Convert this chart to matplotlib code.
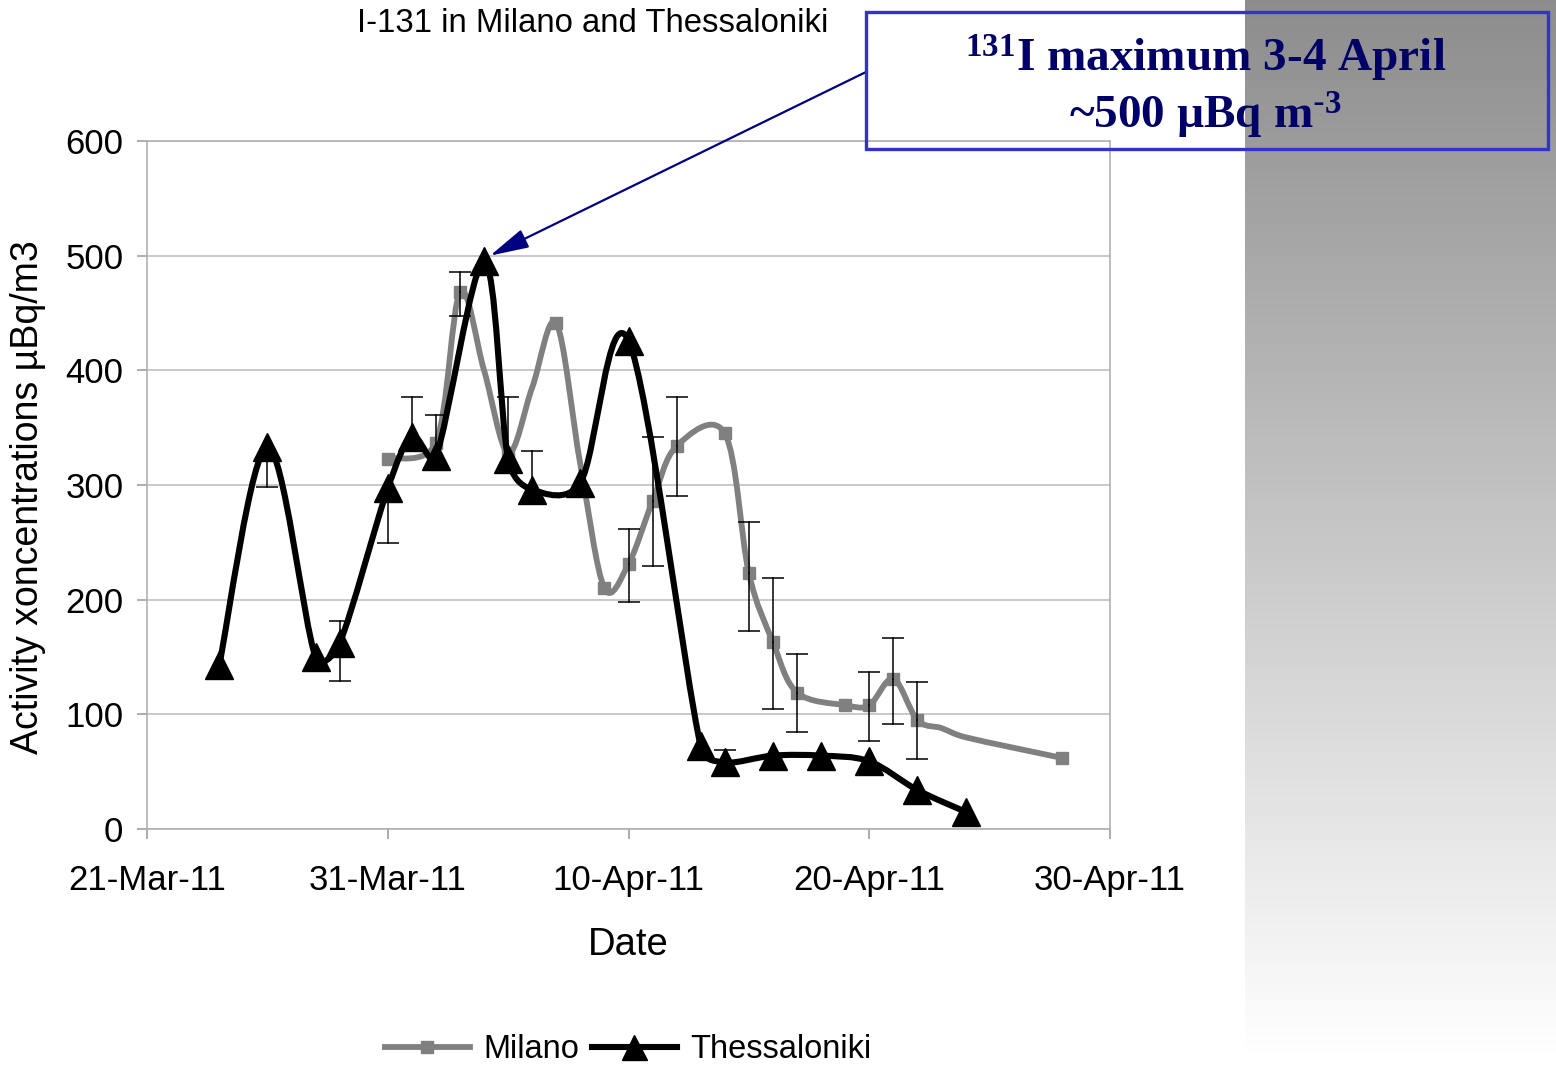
import numpy as np
import matplotlib
matplotlib.use("Agg")
import matplotlib.pyplot as plt
import matplotlib.dates as mdates
from matplotlib.path import Path
from matplotlib.patches import PathPatch, Rectangle
from matplotlib.lines import Line2D
from datetime import datetime

plt.rcParams['font.family'] = ['Liberation Sans', 'DejaVu Sans']
plt.rcParams['mathtext.default'] = 'regular'

# ---- data ----
thess_dates = ['2011-03-24', '2011-03-26', '2011-03-28', '2011-03-29', '2011-03-31',
               '2011-04-01', '2011-04-02', '2011-04-04', '2011-04-05', '2011-04-06',
               '2011-04-08', '2011-04-10', '2011-04-13', '2011-04-14', '2011-04-16',
               '2011-04-18', '2011-04-20', '2011-04-22', '2011-04-24']
thess_vals = [143, 333, 150, 162, 297, 342, 325, 495, 323, 296,
              302, 426, 72, 58, 64, 64, 59, 34, 15]
thess_err_lo = [0, 35, 0, 33, 48, 0, 0, 0, 0, 0, 0, 0, 0, 0, 0, 0, 0, 0, 0]
thess_err_hi = [0, 0, 0, 19, 0, 35, 36, 0, 54, 34, 0, 0, 0, 11, 0, 0, 0, 0, 0]

milano_dates = ['2011-03-31', '2011-04-02', '2011-04-03', '2011-04-04', '2011-04-05',
                '2011-04-06', '2011-04-07', '2011-04-08', '2011-04-09', '2011-04-10',
                '2011-04-11', '2011-04-12', '2011-04-14', '2011-04-15', '2011-04-16',
                '2011-04-17', '2011-04-19', '2011-04-20', '2011-04-21', '2011-04-22',
                '2011-04-23', '2011-04-24', '2011-04-28']
milano_vals = [323, 337, 468, 400, 328, 385, 441, 318, 210, 231,
               286, 334, 345, 223, 163, 119, 108, 108, 131, 95,
               88, 80, 62]
milano_err_lo = [0, 0, 21, 0, 0, 0, 0, 0, 0, 33, 57, 44, 0, 50, 58, 34, 0, 31, 39, 34, 0, 0, 0]
milano_err_hi = [0, 0, 18, 0, 0, 0, 0, 0, 0, 31, 56, 43, 0, 45, 56, 34, 0, 29, 36, 33, 0, 0, 0]
milano_marked = [0, 1, 2, 4, 6, 8, 9, 10, 11, 12, 13, 14, 15, 16, 17, 18, 19, 22]

tick_dates = ['2011-03-21', '2011-03-31', '2011-04-10', '2011-04-20', '2011-04-30']
tick_labels = ['21-Mar-11', '31-Mar-11', '10-Apr-11', '20-Apr-11', '30-Apr-11']
y_ticks = [0, 100, 200, 300, 400, 500, 600]


def to_num(ds):
    return mdates.date2num([datetime.strptime(d, '%Y-%m-%d') for d in ds])


def smooth_path(ax, x, y):
    # Excel-style smoothed line, control points worked out in screen space
    pts = ax.transData.transform(np.column_stack([x, y]).astype(float))
    n = len(pts)
    dist = lambda a, b: np.hypot(*(a - b))
    verts = [pts[0]]
    codes = [Path.MOVETO]
    for i in range(n - 1):
        p0 = pts[i - 1] if i > 0 else pts[i]
        p1, p2 = pts[i], pts[i + 1]
        p3 = pts[i + 2] if i + 2 < n else pts[i + 1]
        d12, d02, d13 = dist(p1, p2), dist(p0, p2), dist(p1, p3)
        f0 = 1 / 6 if d02 / 6 < d12 / 2 else d12 / d02 / 2
        f3 = 1 / 6 if d13 / 6 < d12 / 2 else d12 / d13 / 2
        verts += [p1 + (p2 - p0) * f0, p2 - (p3 - p1) * f3, p2]
        codes += [Path.CURVE4] * 3
    verts = ax.transData.inverted().transform(np.array(verts))
    return Path(verts, codes)


def draw_errors(ax, x, y, lo, hi):
    for xi, yi, l, h in zip(x, y, lo, hi):
        for e in (-l, h):
            if e:
                ax.plot([xi, xi], [yi, yi + e], color='black', lw=1.1, zorder=3)
                ax.plot([xi], [yi + e], marker='_', ms=16, mew=1.1, color='black', zorder=3)


W, H = 1556, 1066
fig = plt.figure(figsize=(W / 100, H / 100), dpi=100)

# grey gradient panel on the right
gax = fig.add_axes([1245 / W, 0, 1 - 1245 / W, 1], zorder=-1)
grad = np.linspace(0.55, 1.0, 256).reshape(-1, 1)
gax.imshow(grad, cmap='gray', vmin=0, vmax=1, aspect='auto', extent=[0, 1, 0, 1], origin='upper')
gax.axis('off')

ax = fig.add_axes([147 / W, 1 - 829 / H, (1110 - 147) / W, (829 - 141) / H])
ax.set_xlim(to_num(['2011-03-21'])[0], to_num(['2011-04-30'])[0])
ax.set_ylim(0, 600)

tx, mx = to_num(thess_dates), to_num(milano_dates)

ax.add_patch(PathPatch(smooth_path(ax, mx, milano_vals), fill=False, edgecolor='#808080',
                       lw=4.2, capstyle='round', joinstyle='round', zorder=2))
ax.plot(mx[milano_marked], np.array(milano_vals)[milano_marked], ls='none', marker='s',
        ms=8.5, color='#808080', zorder=2)
draw_errors(ax, mx, milano_vals, milano_err_lo, milano_err_hi)

ax.add_patch(PathPatch(smooth_path(ax, tx, thess_vals), fill=False, edgecolor='black',
                       lw=4.4, capstyle='round', joinstyle='round', zorder=4))
ax.plot(tx, thess_vals, ls='none', marker='^', ms=20, color='black', zorder=4)
draw_errors(ax, tx, thess_vals, thess_err_lo, thess_err_hi)

ax.set_xticks(to_num(tick_dates))
ax.set_xticklabels(tick_labels)
ax.set_yticks(y_ticks)
ax.tick_params(axis='both', labelsize=25, color='#a0a0a0', length=7, width=1.2)
ax.tick_params(axis='x', pad=18)
ax.tick_params(axis='y', pad=10)
ax.grid(axis='y', color='#c0c0c0', lw=1.2)
ax.set_axisbelow(True)
for s in ax.spines.values():
    s.set_color('#b0b0b0')
    s.set_linewidth(1.2)

fig.text(593 / W, 1 - 24 / H, 'I-131 in Milano and Thessaloniki', fontsize=23.7,
         ha='center', va='center')
fig.text(28 / W, 1 - 497 / H, 'Activity xoncentrations µBq/m3', fontsize=27,
         rotation=90, ha='center', va='center')
fig.text(628 / W, 1 - 945 / H, 'Date', fontsize=27.5, ha='center', va='center')

# annotation box and arrow
fig.add_artist(Rectangle((866 / W, 1 - 149 / H), 682 / W, 137 / H, fill=False,
                         edgecolor='#3333cc', lw=2.4, transform=fig.transFigure, zorder=5))
fig.text(1206 / W, 1 - 58 / H, r'$^{131}$I maximum 3-4 April', fontsize=34,
         fontweight='bold', family='Liberation Serif', color='#000066',
         ha='center', va='center', zorder=6)
fig.text(1206 / W, 1 - 115 / H, r'~500 µBq m$^{\text{-}3}$', fontsize=34,
         fontweight='bold', family='Liberation Serif', color='#000066',
         ha='center', va='center', zorder=6)
ax.annotate('', xy=(tx[7] + 0.25, 500), xycoords='data',
            xytext=(866, H - 72), textcoords='figure pixels',
            arrowprops=dict(arrowstyle='-|>,head_length=1.2,head_width=0.3',
                            color='#000080', lw=1.6, mutation_scale=20, shrinkA=0, shrinkB=0),
            annotation_clip=False)

handles = [Line2D([], [], color='#808080', lw=4.2, marker='s', ms=8.5),
           Line2D([], [], color='black', lw=4.4, marker='^', ms=18)]
fig.legend(handles, ['Milano', 'Thessaloniki'], loc='center',
           bbox_to_anchor=(628 / W, 1 - 1050 / H), ncol=2, frameon=False, fontsize=23.5,
           handlelength=2.6, handletextpad=0.4, columnspacing=0.4)

fig.savefig('out.png', dpi=100)
